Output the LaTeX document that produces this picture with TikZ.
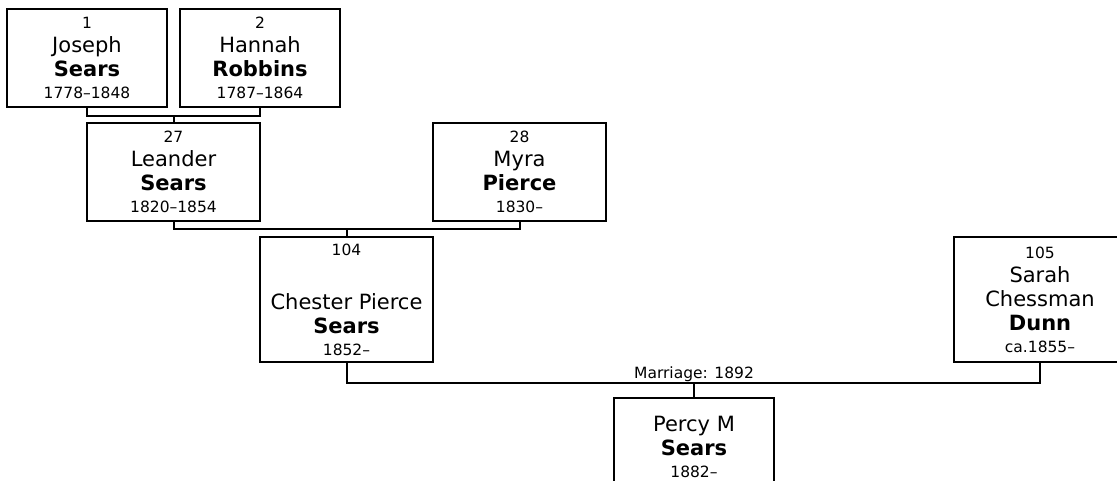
\documentclass[tikz,border=0pt]{standalone}
\usepackage{fontspec}
\setmainfont{DejaVu Sans}
\usetikzlibrary{positioning}
\newcommand{\smalltxt}{\fontsize{15.5}{18}\selectfont}
\newcommand{\bigtxt}{\fontsize{21}{24}\selectfont}
\newcommand{\pname}[4]{{\smalltxt #1}\\#2\\\textbf{#3}\\[-2pt]{\smalltxt #4}}
\tikzset{
  personbox/.style={draw, line width=2pt, align=center, inner sep=0pt, font=\bigtxt},
  famline/.style={line width=2pt},
}
\begin{document}
\begin{tikzpicture}[x=1pt, y=-1pt]
        \useasboundingbox (0,0) rectangle (1117,480);
        \clip (0,0) rectangle (1117,480);

        % --- Grands-parents ---
        \node[personbox, minimum width=160, minimum height=98] (joseph) at (87,58) {\pname{1}{Joseph}{Sears}{1778--1848}};
        \node[personbox, minimum width=160, minimum height=98] (hannah) at (260,58) {\pname{2}{Hannah}{Robbins}{1787--1864}};

        % --- Parents ---
        \node[personbox, minimum width=173, minimum height=98] (leander) at (173.5,172) {\pname{27}{Leander}{Sears}{1820--1854}};
        \node[personbox, minimum width=173, minimum height=98] (myra) at (519.5,172) {\pname{28}{Myra}{Pierce}{1830--}};

        % --- Couple ---
        \node[personbox, minimum width=173, minimum height=125] (chester) at (346.5,299.5)
            {{\smalltxt 104}\\[30pt]Chester Pierce\\\textbf{Sears}\\[-2pt]{\smalltxt 1852--}};
        \node[personbox, minimum width=172, minimum height=125] (sarah) at (1040,299.5)
            {{\smalltxt 105}\\Sarah\\Chessman\\\textbf{Dunn}\\[-2pt]{\smalltxt ca.1855--}};

        % --- Enfant ---
        \node[personbox, minimum width=160, minimum height=98] (percy) at (694,447)
            {Percy M\\\textbf{Sears}\\[-2pt]{\smalltxt 1882--}};

        % --- Liens ---
        \coordinate (jh) at (173.5,116);
        \coordinate (lm) at (346.5,229);
        \coordinate (cs) at (694,383);
        \draw[famline] (joseph.south) |- (jh) -| (hannah.south);
        \draw[famline] (jh) -- (leander.north);
        \draw[famline] (leander.south) |- (lm) -| (myra.south);
        \draw[famline] (lm) -- (chester.north);
        \draw[famline] (chester.south) |- (cs) -| (sarah.south);
        \draw[famline] (cs) -- (percy.north);

        % Mariage
        \node[font=\smalltxt, anchor=base, inner sep=0pt] (marriage) at (694,378) {Marriage: 1892};
    \end{tikzpicture}
\end{document}
